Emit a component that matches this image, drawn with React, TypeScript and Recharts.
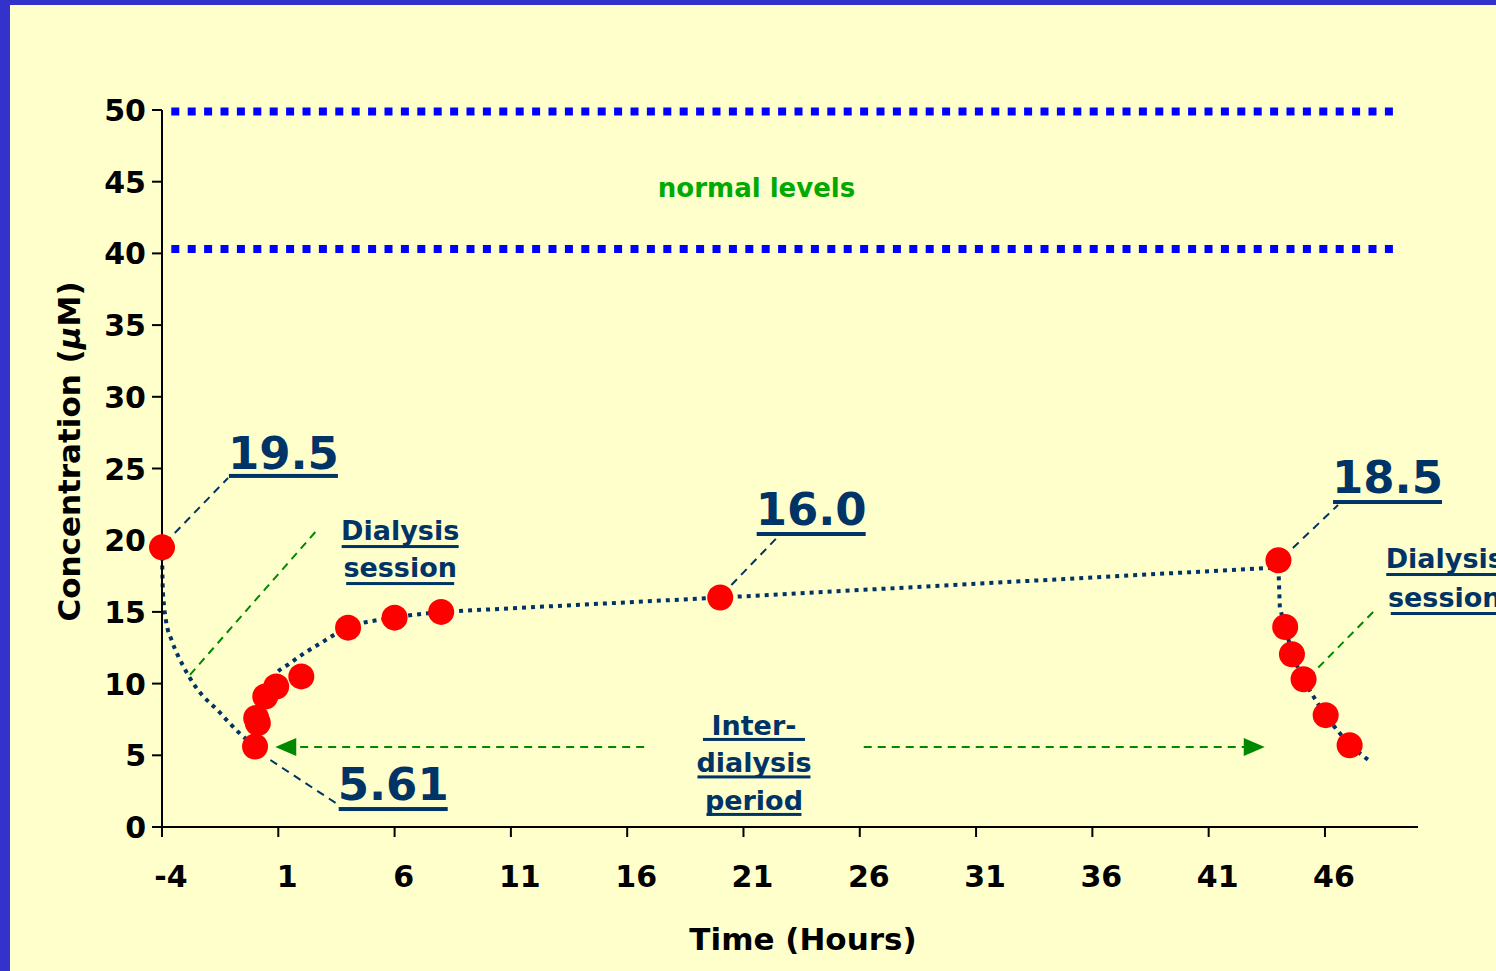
import React from 'react';
import { ComposedChart, Line, Scatter, XAxis, YAxis, ReferenceLine, ReferenceDot } from 'recharts';

// measured concentrations (red dots)
const sampleHours = [-4, 0, 0.05, 0.12, 0.44, 0.91, 1.99, 4, 6, 8, 20, 44, 44.29, 44.58, 45.08, 46.03, 47.06];
const sampleConc = [19.5, 5.61, 7.6, 7.25, 9.1, 9.8, 10.5, 13.9, 14.6, 15.0, 16.0, 18.6, 13.95, 12.05, 10.3, 7.8, 5.7];

// fitted curve pieces (dotted navy line)
const decayHours = [-4, -3.97, -3.91, -3.83, -3.58, -3.3, -3.08, -2.65, -2.22, -1.64, -1.07, -0.64, 0];
const decayConc = [19.5, 16.8, 15.4, 14.4, 13.0, 11.9, 11.2, 10.0, 9.1, 8.2, 7.2, 6.5, 5.61];
const recoveryHours = [0.05, 0.35, 0.91, 1.4, 2.1, 2.9, 3.5, 4, 6, 8];
const recoveryConc = [6.8, 8.9, 10.7, 11.3, 12.1, 12.9, 13.5, 13.9, 14.6, 15.0];
const plateauHours = [8, 20, 44];
const plateauConc = [15.0, 16.0, 18.1];
const dropHours = [44, 44.06, 44.3, 44.6, 45.05, 46, 47.06, 48.0];
const dropConc = [18.1, 15.3, 13.9, 12.0, 10.3, 7.8, 5.7, 4.5];

// normal range
const normalUpper = 49.9;
const normalLower = 40.3;
const normalSpan = [-3.6, 49.1];

const xTicks = [-4, 1, 6, 11, 16, 21, 26, 31, 36, 41, 46];
const yTicks = [0, 5, 10, 15, 20, 25, 30, 35, 40, 45, 50];

const zip = (xs: number[], ys: number[]) => xs.map((x, i) => ({ x, y: ys[i] }));

const samples = zip(sampleHours, sampleConc);
const decay = zip(decayHours, decayConc);
const recovery = zip(recoveryHours, recoveryConc);
const plateau = zip(plateauHours, plateauConc);
const drop = zip(dropHours, dropConc);
const upperLine = zip(normalSpan, [normalUpper, normalUpper]);
const lowerLine = zip(normalSpan, [normalLower, normalLower]);

const FONT = '"Comic Sans MS", "DejaVu Sans", sans-serif';
const NAVY = '#003366';
const GREEN = '#008800';

const XTick = (props: any) => (
  <text x={props.x + 9} y={props.y} dy={50} textAnchor="middle" fontSize={30} fontWeight="bold" fontFamily={FONT} fill="#000">
    {props.payload.value}
  </text>
);

const YTick = (props: any) => (
  <text x={props.x} y={props.y} dy={11} textAnchor="end" fontSize={30} fontWeight="bold" fontFamily={FONT} fill="#000">
    {props.payload.value}
  </text>
);

const XTitle = (props: any) => {
  const vb = props.viewBox;
  return (
    <text x={vb.x + vb.width / 2 + 13} y={vb.y + 123} textAnchor="middle" fontSize={31} fontWeight="bold" fontFamily={FONT} fill="#000">
      Time (Hours)
    </text>
  );
};

const YTitle = (props: any) => {
  const vb = props.viewBox;
  const x = vb.x + 70;
  const y = vb.y + vb.height / 2 - 17;
  return (
    <text x={x} y={y} transform={`rotate(-90, ${x}, ${y})`} textAnchor="middle" fontSize={31} fontWeight="bold" fontFamily={FONT} fill="#000">
      Concentration (<tspan fontStyle="italic">μ</tspan>M)
    </text>
  );
};

// text with a thick underline under each line, anchored at the baseline of the first line
const underlined = (lines: string[], size: number, gap: number, widths: number[], offset: number, thick: number, color = NAVY) =>
  (props: any) => (
    <g>
      {lines.map((t, i) => (
        <g key={i}>
          <text x={props.cx} y={props.cy + i * gap} textAnchor="middle" fontSize={size} fontWeight="bold" fontFamily={FONT} fill={color}>
            {t}
          </text>
          <rect x={props.cx - widths[i] / 2} y={props.cy + i * gap + offset} width={widths[i]} height={thick} fill={color} />
        </g>
      ))}
    </g>
  );

const plainText = (t: string, size: number, color: string) => (props: any) => (
  <text x={props.cx} y={props.cy} textAnchor="middle" fontSize={size} fontWeight="bold" fontFamily={FONT} fill={color}>
    {t}
  </text>
);

const arrowHead = (dir: number) => (props: any) => (
  <polygon
    points={`${props.cx},${props.cy} ${props.cx + dir * 21},${props.cy - 9} ${props.cx + dir * 21},${props.cy + 9}`}
    fill={GREEN}
  />
);

const RedDot = (props: any) => <circle cx={props.cx} cy={props.cy} r={13} fill="#FF0000" />;

const leader = (x1: number, y1: number, x2: number, y2: number, color: string, key: string) => (
  <ReferenceLine
    key={key}
    segment={[{ x: x1, y: y1 }, { x: x2, y: y2 }]}
    stroke={color}
    strokeWidth={2}
    strokeDasharray="8 6"
    ifOverflow="visible"
  />
);

const dotted = { stroke: NAVY, strokeWidth: 4, strokeDasharray: '4 5', dot: false, isAnimationActive: false };

export default function App() {
  return (
    <div style={{ position: 'fixed', left: 0, top: 0, width: 1496, height: 971, background: '#3333CC' }}>
      <div style={{ position: 'absolute', left: 10, top: 5, width: 1486, height: 966, background: '#FFFFCC' }}>
        <ComposedChart width={1486} height={966} margin={{ top: 105, right: 78, bottom: 14, left: 0 }}>
          <XAxis
            dataKey="x"
            type="number"
            domain={[-4, 50]}
            ticks={xTicks}
            interval={0}
            stroke="#000"
            strokeWidth={2}
            tickSize={10}
            tickMargin={0}
            height={130}
            tick={<XTick />}
            label={{ content: XTitle }}
          />
          <YAxis
            dataKey="y"
            type="number"
            domain={[0, 50]}
            ticks={yTicks}
            interval={0}
            stroke="#000"
            strokeWidth={2}
            tickSize={10}
            tickMargin={6}
            width={152}
            tick={<YTick />}
            label={{ content: YTitle }}
          />

          <Line data={upperLine} dataKey="y" stroke="#0000FF" strokeWidth={8} strokeDasharray="8 8.4" dot={false} isAnimationActive={false} />
          <Line data={lowerLine} dataKey="y" stroke="#0000FF" strokeWidth={8} strokeDasharray="8 8.4" dot={false} isAnimationActive={false} />

          {leader(-3.87, 19.8, -1.16, 24.34, NAVY, 'l195')}
          {leader(0.66, 4.67, 3.67, 1.46, NAVY, 'l561')}
          {leader(20.48, 16.88, 22.55, 20.36, NAVY, 'l160')}
          {leader(44.62, 19.46, 46.56, 22.45, NAVY, 'l185')}
          {leader(2.59, 20.57, -2.92, 10.39, GREEN, 'g1')}
          {leader(48.07, 14.99, 45.31, 10.46, GREEN, 'g2')}
          {leader(16.73, 5.58, 1.73, 5.58, GREEN, 'a1')}
          {leader(26.17, 5.58, 42.55, 5.58, GREEN, 'a2')}

          <Line data={decay} dataKey="y" type="monotone" {...dotted} />
          <Line data={recovery} dataKey="y" type="monotone" {...dotted} />
          <Line data={plateau} dataKey="y" type="linear" {...dotted} />
          <Line data={drop} dataKey="y" type="linear" {...dotted} />

          <Scatter data={samples} dataKey="y" shape={RedDot} isAnimationActive={false} />

          <ReferenceDot x={0.87} y={5.58} r={0} ifOverflow="visible" shape={arrowHead(1)} />
          <ReferenceDot x={43.41} y={5.58} r={0} ifOverflow="visible" shape={arrowHead(-1)} />

          <ReferenceDot x={21.56} y={43.93} r={0} ifOverflow="visible" shape={plainText('normal levels', 26, '#00AA00')} />
          <ReferenceDot x={1.22} y={24.97} r={0} ifOverflow="visible" shape={underlined(['19.5'], 45, 0, [109], 5, 4)} />
          <ReferenceDot x={5.94} y={1.88} r={0} ifOverflow="visible" shape={underlined(['5.61'], 45, 0, [109], 7, 4)} />
          <ReferenceDot x={23.91} y={21.06} r={0} ifOverflow="visible" shape={underlined(['16.0'], 45, 0, [109], 7, 4)} />
          <ReferenceDot x={48.69} y={23.29} r={0} ifOverflow="visible" shape={underlined(['18.5'], 45, 0, [109], 7, 4)} />
          <ReferenceDot x={6.24} y={20.01} r={0} ifOverflow="visible" shape={underlined(['Dialysis', 'session'], 27, 37, [117, 108], 5, 3)} />
          <ReferenceDot x={51.15} y={18.06} r={0} ifOverflow="visible" shape={underlined(['Dialysis', 'session'], 27, 39, [117, 108], 5, 3)} />
          <ReferenceDot
            x={21.45}
            y={6.42}
            r={0}
            ifOverflow="visible"
            shape={underlined(['Inter-', 'dialysis', 'period'], 27, 37.5, [102, 113, 95], 3, 3)}
          />
        </ComposedChart>
      </div>
    </div>
  );
}
